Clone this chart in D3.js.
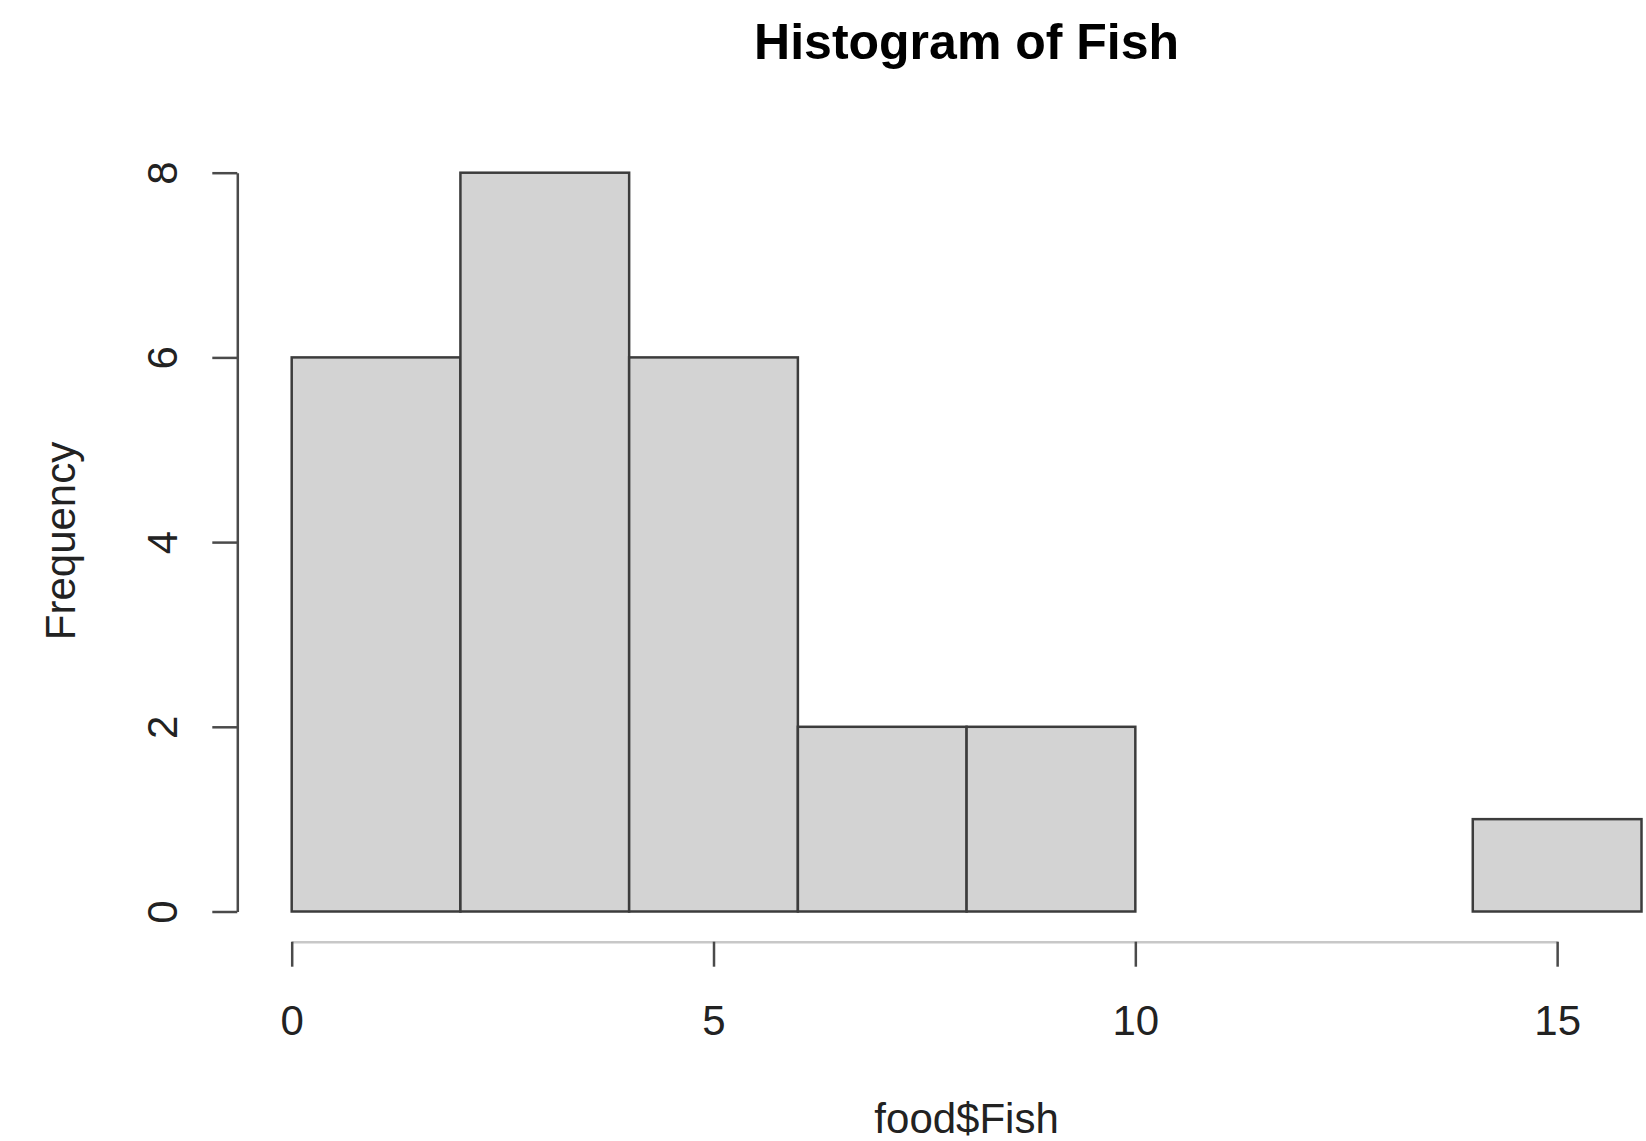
<!DOCTYPE html>
<html>
<head>
<meta charset="utf-8">
<script src="https://cdn.jsdelivr.net/npm/d3@7"></script>
<style>
  body { margin: 0; background: #fff; }
  text { font-family: "Liberation Sans", Arial, Helvetica, sans-serif; }
</style>
</head>
<body>
<script>
// histogram data: bin edges and counts
var binStarts = [0, 2, 4, 6, 8, 10, 12, 14];
var binWidth = 2;
var counts = [6, 8, 6, 2, 2, 0, 0, 1];
var xTicks = [0, 5, 10, 15];
var yTicks = [0, 2, 4, 6, 8];
var title = 'Histogram of Fish';
var xLabel = 'food$Fish';
var yLabel = 'Frequency';

var svg = d3.select('body').append('svg').attr('width', 1646).attr('height', 1141);

var x = d3.scaleLinear().domain([0, 16]).range([291.7, 1641.5]);
var y = d3.scaleLinear().domain([0, 8]).range([911.5, 172.7]);

// bars
var bins = binStarts.map((s, i) => ({x0: s, x1: s + binWidth, n: counts[i]}));
svg.append('g').selectAll('rect').data(bins).enter().append('rect')
  .attr('x', d => x(d.x0))
  .attr('y', d => y(d.n))
  .attr('width', d => x(d.x1) - x(d.x0))
  .attr('height', d => y(0) - y(d.n))
  .attr('fill', '#d3d3d3')
  .attr('stroke', d => d.n > 0 ? '#3c3c3c' : '#c8c8c8')
  .attr('stroke-width', 2.5);

// y axis
var yAxis = d3.axisLeft(y).tickValues(yTicks).tickSize(25).tickSizeOuter(0).tickPadding(0).tickFormat(d3.format('d'));
var gy = svg.append('g').attr('transform', 'translate(237.3,0)').call(yAxis);
gy.select('.domain').attr('stroke', '#4a4a4a').attr('stroke-width', 2.5);
gy.selectAll('.tick line').attr('stroke', '#4a4a4a').attr('stroke-width', 2.5);
gy.selectAll('.tick text')
  .attr('x', null).attr('dy', null)
  .attr('transform', 'translate(-60,0) rotate(-90)')
  .attr('text-anchor', 'middle')
  .style('font-size', '42px').attr('fill', '#222')
  .attr('font-family', null);

// x axis (R draws it only from first to last tick)
var xa = x.copy().domain([0, 15]).range([x(0), x(15)]);
var xAxis = d3.axisBottom(xa).tickValues(xTicks).tickSize(25).tickSizeOuter(0).tickPadding(0).tickFormat(d3.format('d'));
var gx = svg.append('g').attr('transform', 'translate(0,941.7)').call(xAxis);
gx.select('.domain').attr('stroke', '#c8c8c8').attr('stroke-width', 2.5);
gx.selectAll('.tick line').attr('stroke', '#4a4a4a').attr('stroke-width', 2.5);
gx.selectAll('.tick text')
  .attr('y', 93).attr('dy', null)
  .style('font-size', '42px').attr('fill', '#222')
  .attr('font-family', null);

// title and labels
var cx = x(8);
svg.append('text').attr('x', cx).attr('y', 59).attr('text-anchor', 'middle')
  .style('font-size', '50px').style('font-weight', 'bold').attr('fill', '#000').text(title);
svg.append('text').attr('x', cx).attr('y', 1133).attr('text-anchor', 'middle')
  .style('font-size', '42px').attr('fill', '#222').text(xLabel);
svg.append('text').attr('transform', 'translate(75,541) rotate(-90)').attr('text-anchor', 'middle')
  .style('font-size', '42px').attr('fill', '#222').text(yLabel);
</script>
</body>
</html>
